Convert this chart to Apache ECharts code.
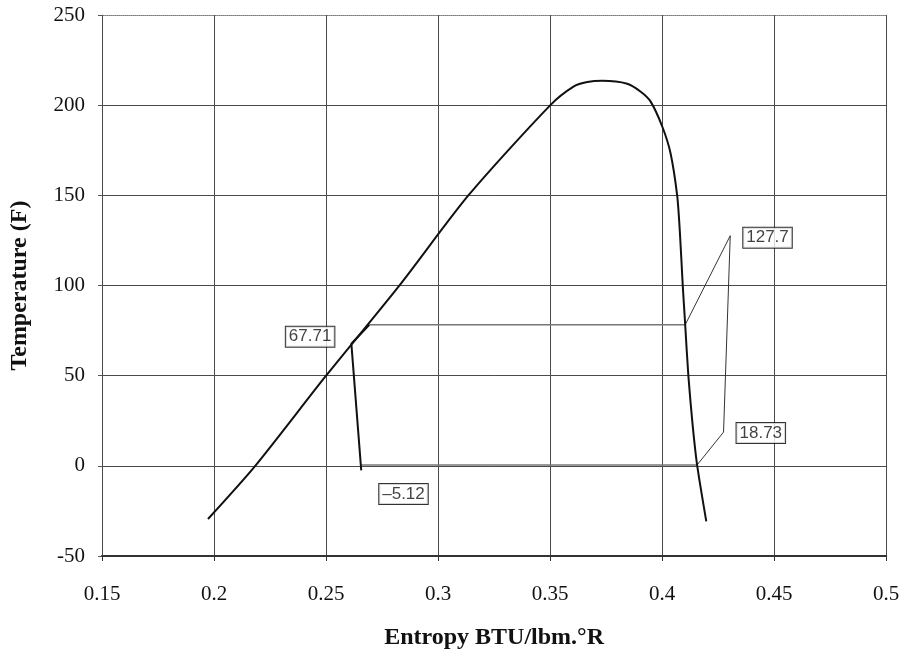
<!DOCTYPE html>
<html>
<head>
<meta charset="utf-8">
<script src="https://cdn.jsdelivr.net/npm/echarts@6/dist/echarts.min.js"></script>
<style>html,body{margin:0;padding:0;background:#fff}#c{width:907px;height:655px}</style>
</head>
<body>
<div id="c"></div>
<script>
// Saturation dome (entropy, temperature)
const domeS = [0.1973, 0.2184, 0.25, 0.2827, 0.3135, 0.35, 0.3606, 0.3666, 0.3733, 0.3844, 0.3903, 0.3948, 0.4, 0.4037, 0.4067, 0.4079, 0.4092, 0.4103, 0.4117, 0.4136, 0.4156, 0.4197];
const domeT = [-29.5, 0, 50, 100, 150, 200, 210.5, 212.9, 213.6, 212, 207.7, 202.2, 188.4, 173.7, 150, 130, 100, 78, 50, 22.7, 0.5, -30.8];
// Expansion path (liquid line -> throttled)
const expS = [0.2693, 0.2613, 0.2657];
const expT = [78.3, 67.71, -2.5];
// Condensing horizontal
const condS = [0.2693, 0.4103];
const condT = [78.3, 78.3];
// Evaporating horizontal
const evapS = [0.2657, 0.4156];
const evapT = [0.5, 0.5];
// Superheat + compression + desuperheat
const compS = [0.4156, 0.4274, 0.4304, 0.4103];
const compT = [0.5, 18.73, 127.7, 78.3];
// Labeled state points
const labelS = [0.2613, 0.4304, 0.4274, 0.2657];
const labelT = [67.71, 127.7, 18.73, -5.12];
const labelText = ['67.71', '127.7', '18.73', '\u20135.12'];

const xTicks = ['0.15','0.2','0.25','0.3','0.35','0.4','0.45','0.5'];
const yTicks = ['-50','0','50','100','150','200','250'];

const zip = (a, b) => a.map((v, i) => [v, b[i]]);

const labelPos = [
  {position: 'left', distance: 17, offset: [0, -7]},
  {position: 'right', distance: 13, offset: [0, 2]},
  {position: 'right', distance: 13, offset: [0, 1]},
  {position: 'right', distance: 18, offset: [0, 19]}
];

const serif = 'Liberation Serif';
const chart = echarts.init(document.getElementById('c'), null, {renderer: 'canvas'});
chart.setOption({
  animation: false,
  backgroundColor: '#fff',
  grid: {left: 100.5, right: 20.8, top: 15.2, bottom: 96.8, show: false},
  xAxis: [{
    type: 'value', min: 0.15, max: 0.5, interval: 0.05,
    name: 'Entropy BTU/lbm.\u00b0R', nameLocation: 'middle', nameGap: 70,
    nameTextStyle: {fontFamily: serif, fontWeight: 'bold', fontSize: 24, color: '#111'},
    axisLine: {show: true, onZero: false, lineStyle: {color: '#333', width: 2}},
    axisTick: {show: true, length: 5, lineStyle: {color: '#333'}},
    axisLabel: {fontFamily: serif, fontSize: 21, color: '#111', margin: 28,
      formatter: v => xTicks[Math.round((v - 0.15) / 0.05)]},
    splitLine: {show: true, lineStyle: {color: '#4a4a4a', width: 1}},
    z: 2
  }, {
    type: 'value', position: 'top', min: 0.15, max: 0.5, interval: 0.05,
    axisLine: {show: true, onZero: false, lineStyle: {color: '#999', width: 1, type: 'dotted'}},
    axisTick: {show: false}, axisLabel: {show: false}, splitLine: {show: false}
  }],
  yAxis: [{
    type: 'value', min: -50, max: 250, interval: 50,
    name: 'Temperature (F)', nameLocation: 'middle', nameGap: 70, nameRotate: 90,
    nameTextStyle: {fontFamily: serif, fontWeight: 'bold', fontSize: 24, color: '#111'},
    axisLine: {show: true, onZero: false, lineStyle: {color: '#888', width: 1}},
    axisTick: {show: true, length: 4, lineStyle: {color: '#555'}},
    axisLabel: {fontFamily: serif, fontSize: 21, color: '#111', margin: 17,
      formatter: v => yTicks[Math.round((v + 50) / 50)]},
    splitLine: {show: true, lineStyle: {color: '#4a4a4a', width: 1}}
  }, {
    type: 'value', position: 'right', min: -50, max: 250, interval: 50,
    axisLine: {show: true, onZero: false, lineStyle: {color: '#999', width: 1, type: 'dotted'}},
    axisTick: {show: false}, axisLabel: {show: false}, splitLine: {show: false}
  }],
  series: [
    {type: 'line', data: zip(domeS, domeT), showSymbol: false, smooth: 0.25, lineStyle: {color: '#111', width: 2}, z: 5},
    {type: 'line', data: zip(condS, condT), showSymbol: false, lineStyle: {color: '#777', width: 1.5}, z: 3},
    {type: 'line', data: zip(evapS, evapT), showSymbol: false, lineStyle: {color: '#777', width: 1.5}, z: 3},
    {type: 'line', data: zip(compS, compT), showSymbol: false, lineStyle: {color: '#333', width: 1}, z: 4},
    {type: 'line', data: zip(expS, expT), showSymbol: false, lineStyle: {color: '#111', width: 2}, z: 4},
    {type: 'scatter', symbolSize: 0, z: 10,
      data: labelS.map((s, i) => ({
        value: [s, labelT[i]],
        label: Object.assign({
          show: true, formatter: labelText[i],
          fontFamily: 'Liberation Sans', fontSize: 17, color: '#111',
          backgroundColor: '#fff', borderColor: '#000', borderWidth: 1, padding: [2, 3, 1, 3]
        }, labelPos[i])
      }))
    }
  ]
});
</script>
</body>
</html>
